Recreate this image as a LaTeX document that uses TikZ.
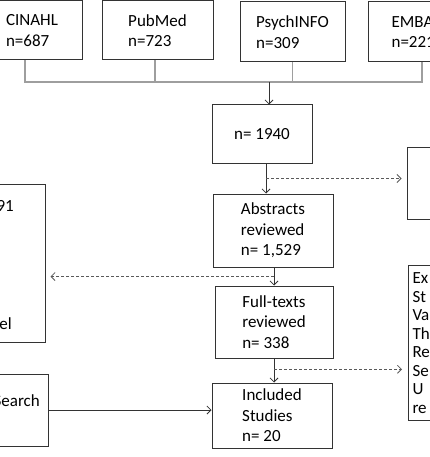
\documentclass[tikz,border=0pt]{standalone}
\usepackage{fontspec}
\setmainfont{Carlito}
\usetikzlibrary{arrows.meta,calc}
\begin{document}
\begin{tikzpicture}[x=1pt,y=-1pt,
  box/.style={draw=black!80,line width=1pt,align=left,inner sep=0pt,
    font=\fontsize{17}{20.5}\selectfont},
  txt/.style={inner sep=0pt,font=\fontsize{17}{20.5}\selectfont},
  feed/.style={draw=black!38,line width=1.2pt},
  arr/.style={draw=black!80,line width=0.8pt,-{Straight Barb[length=4pt,width=8pt]}},
  dasharr/.style={draw=black!65,line width=0.8pt,dash pattern=on 3pt off 2pt,
    -{Straight Barb[length=4pt,width=8pt]}}]
\useasboundingbox (0,0) rectangle (430,457);
% top database boxes
\node[box,minimum width=100pt,minimum height=59pt] (cinahl) at (32,30.5) {CINAHL\\n=687};
\node[box,minimum width=111pt,minimum height=59pt] (pubmed) at (157.5,30.5) {PubMed\\n=723};
\node[box,minimum width=105pt,minimum height=60pt] (psych) at (292.5,32) {PsychINFO\\n=309};
\node[box,minimum width=105pt,minimum height=60pt] (embase) at (420.5,32) {EMBASE\\n=221};
% flow boxes
\node[box,minimum width=100pt,minimum height=58pt] (n1940) at (262,134) {n= 1940};
\node[box,minimum width=120pt,minimum height=73pt] (abstracts) at (273,230.5) {Abstracts\\reviewed\\n= 1,529};
\node[box,minimum width=118pt,minimum height=72pt] (fulltexts) at (274,322) {Full-texts\\reviewed\\n= 338};
\node[box,minimum width=120pt,minimum height=65pt] (included) at (272,415.5) {Included\\Studies\\n= 20};
% side boxes
\node[box,minimum width=102pt,minimum height=71pt] (excl1) at (458,183.5) {};
\node[box,anchor=north west,minimum width=100pt,minimum height=155pt,
  text width=92pt,inner xsep=4pt,font=\fontsize{17}{18.5}\selectfont] (excl2) at (408,265)
  {Ex\\St\\Va\\Th\\Re\\Se\\U\\re};
\node[box,minimum width=100pt,minimum height=158pt] (leftbox) at (-5,263) {};
\node[txt,anchor=east] (l1) at (14,206) {91};
\node[txt,anchor=east] (l2) at (12,324) {el};
\node[box,minimum width=100pt,minimum height=72pt] (search) at (-2,410) {};
\node[txt,anchor=east] (s1) at (40,401) {Search};
% feeder lines
\coordinate (hl) at (0,82);
\draw[feed] ([xshift=-7pt]cinahl.south) -- ([xshift=-7pt]cinahl.south |- hl)
  -- ([xshift=1.5pt]embase.south |- hl) -- ([xshift=1.5pt]embase.south);
\draw[feed] ([xshift=-2.5pt]pubmed.south) -- ([xshift=-2.5pt]pubmed.south |- hl);
\draw[feed] (psych.south) -- (psych.south |- hl);
\draw[arr] ([xshift=7pt]n1940.north |- hl) -- ([xshift=7pt]n1940.north);
% main flow
\draw[arr] ([xshift=4pt]n1940.south) -- ([xshift=4pt]n1940.south |- abstracts.north);
\draw[arr] (abstracts.south -| fulltexts.north) -- (fulltexts.north);
\draw[arr] (fulltexts.south) -- (fulltexts.south |- included.north);
\draw[arr] (search.east) -- (search.east -| included.west);
% dashed exclusions
\coordinate (d1) at ($(n1940.south)!0.5!(abstracts.north)$);
\coordinate (d2) at ($(abstracts.south)!0.5!(fulltexts.north)$);
\coordinate (d3) at ($(fulltexts.south)!0.45!(included.north)$);
\draw[dasharr,shorten >=5pt] ([xshift=4pt]n1940.south |- d1) -- (excl1.west |- d1);
\draw[dasharr,shorten >=5pt] (fulltexts.north |- d2) -- (leftbox.east |- d2);
\draw[dasharr,shorten >=6pt] (fulltexts.south |- d3) -- (excl2.west |- d3);
\end{tikzpicture}
\end{document}
